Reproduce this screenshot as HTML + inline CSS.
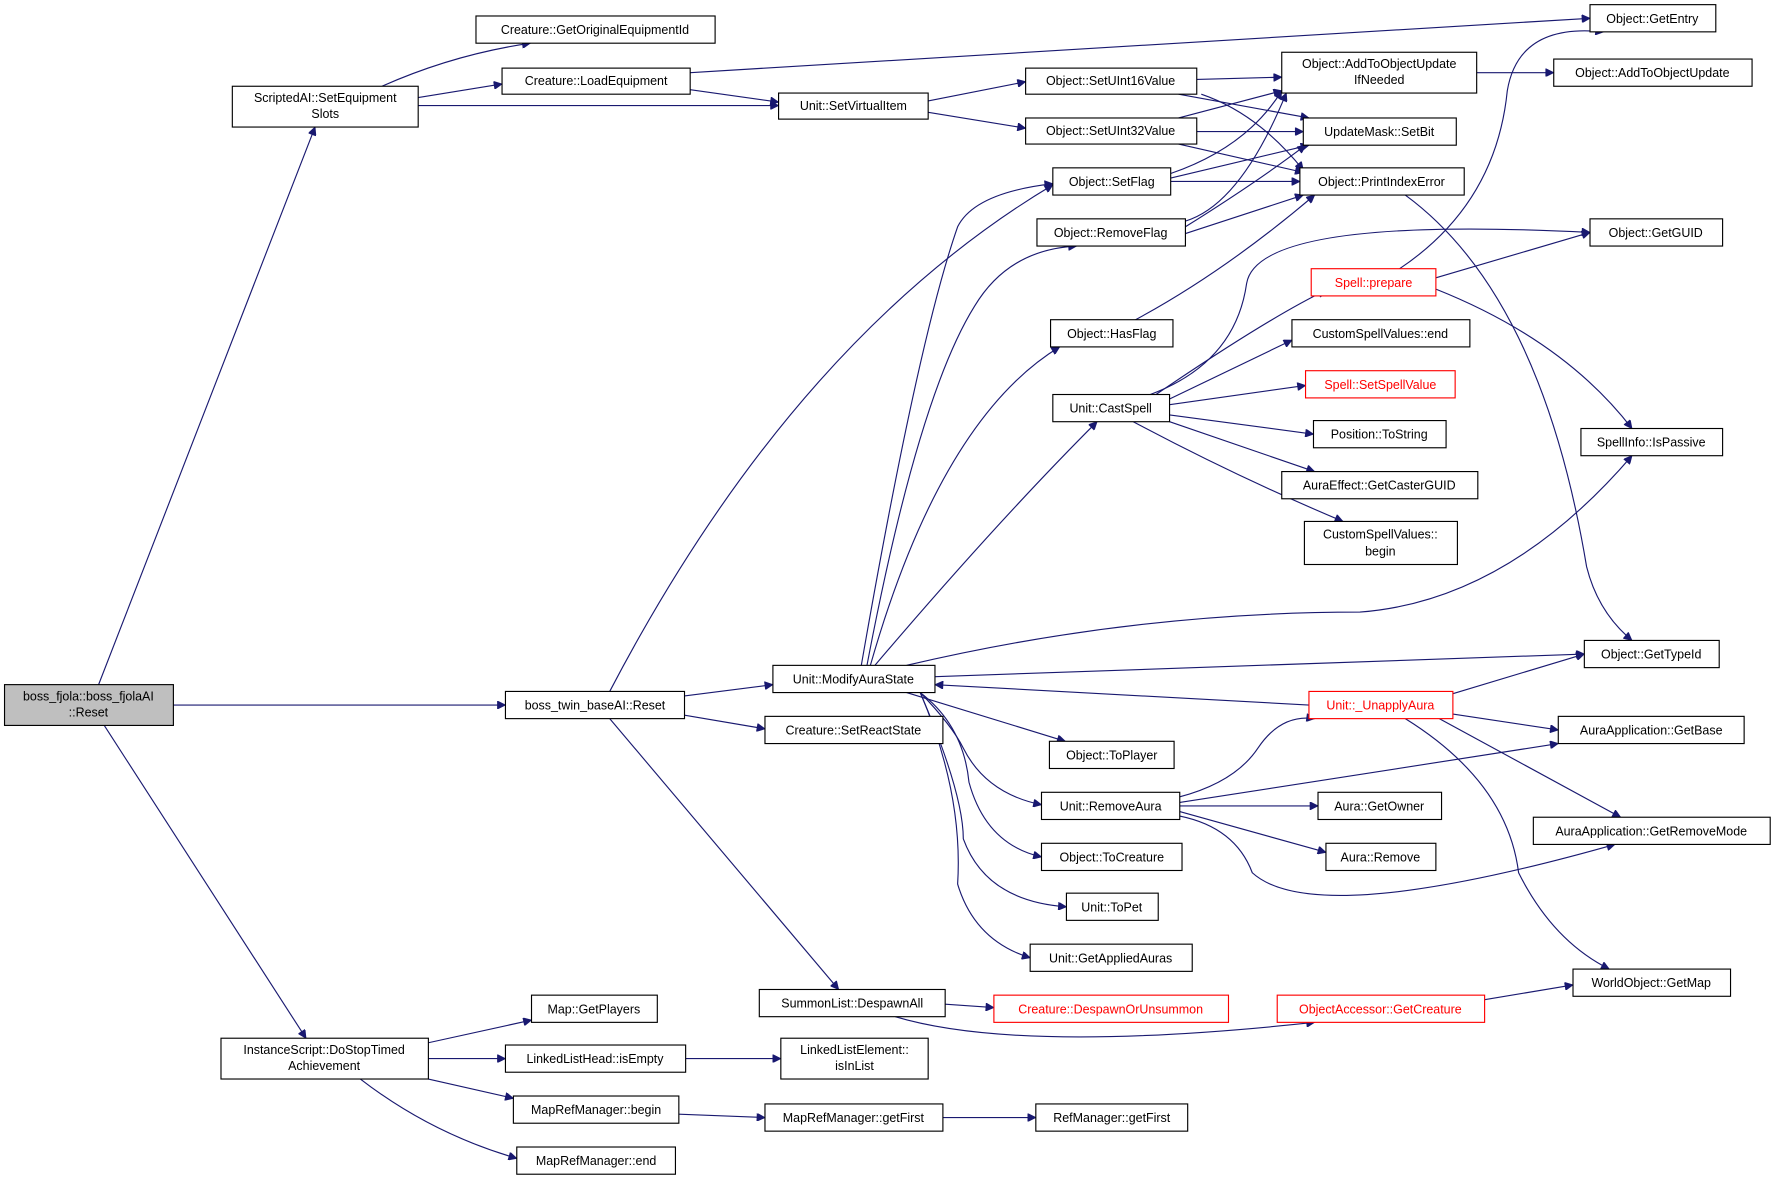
<!DOCTYPE html>
<html><head><meta charset="utf-8"><style>
html,body{margin:0;padding:0;background:#fff;}
svg{display:block;}
text{font-family:"Liberation Sans",sans-serif;font-size:11px;fill:#000;text-anchor:middle;}
rect{fill:#fff;stroke:#000;stroke-width:1;}
rect.r{stroke:#ff0000;}
path{fill:none;stroke:#191970;stroke-width:1;marker-end:url(#a);}
</style></head><body>
<svg width="1777" height="1180" viewBox="0 0 1568 1041" xmlns="http://www.w3.org/2000/svg">
<defs><marker id="a" viewBox="0 0 10 10" refX="10" refY="5" markerWidth="9" markerHeight="7" orient="auto" markerUnits="userSpaceOnUse"><path d="M0,0 L10,5 L0,10 z" style="fill:#191970;stroke:#191970;marker-end:none"/></marker></defs>

<!-- edges -->
<path d="M87,604 L278,112"/>
<path d="M153,622 L446,622"/>
<path d="M92,640 L270,916"/>
<path d="M337,76 Q400,48 468,38"/>
<path d="M369,86 L443,74"/>
<path d="M369,93 L687,93"/>
<path d="M609,64 L1403,16"/>
<path d="M609,79 L687,90"/>
<path d="M819,89 L905,72"/>
<path d="M819,99 L905,113"/>
<path d="M1056,70 L1131,68"/>
<path d="M1040,83 L1155,104"/>
<path d="M1060,83 Q1110,100 1150,150"/>
<path d="M1040,104 L1131,80"/>
<path d="M1056,116 L1150,116"/>
<path d="M1040,127 L1150,152"/>
<path d="M1303,64 L1371,64"/>
<path d="M1033,153 Q1100,130 1131,80"/>
<path d="M1033,157 L1155,128"/>
<path d="M1033,160 L1147,160"/>
<path d="M1046,195 Q1095,180 1135,82"/>
<path d="M1046,200 Q1110,160 1152,128"/>
<path d="M1046,206 L1150,172"/>
<path d="M1002,282 Q1080,240 1160,172"/>
<path d="M1240,172 Q1360,260 1400,500 Q1410,540 1440,565"/>
<path d="M538,610 Q700,300 929,163"/>
<path d="M604,614 L682,604"/>
<path d="M604,631 L675,643"/>
<path d="M538,634 L740,873"/>
<path d="M760,587 Q810,300 845,200 Q860,170 929,162"/>
<path d="M765,587 Q810,350 860,270 Q890,220 950,217"/>
<path d="M768,587 Q830,370 935,306"/>
<path d="M772,587 Q880,460 968,372"/>
<path d="M800,587 Q1000,540 1200,540 Q1330,530 1440,402"/>
<path d="M825,597 L1398,577"/>
<path d="M800,611 L940,654"/>
<path d="M812,611 Q840,640 850,660 Q870,700 919,710"/>
<path d="M812,611 Q850,640 855,690 Q870,745 919,756"/>
<path d="M812,611 Q850,700 850,740 Q870,795 941,800"/>
<path d="M812,611 Q850,700 845,780 Q860,830 909,845"/>
<path d="M1015,348 Q1090,320 1100,250 Q1110,190 1403,205"/>
<path d="M1020,348 Q1120,280 1170,256"/>
<path d="M1032,352 L1140,300"/>
<path d="M1032,357 L1152,340"/>
<path d="M1032,366 L1159,383"/>
<path d="M1032,372 L1160,416"/>
<path d="M1000,372 Q1090,420 1185,460"/>
<path d="M1235,237 Q1320,180 1330,80 Q1340,20 1415,28"/>
<path d="M1267,245 L1403,205"/>
<path d="M1267,255 Q1380,300 1440,378"/>
<path d="M1155,622 L825,604"/>
<path d="M1282,612 L1398,577"/>
<path d="M1282,630 L1375,644"/>
<path d="M1270,634 L1430,721"/>
<path d="M1240,634 Q1330,690 1340,770 Q1370,830 1420,855"/>
<path d="M1041,703 Q1090,690 1110,660 Q1130,630 1160,634"/>
<path d="M1041,708 L1375,656"/>
<path d="M1041,711 L1163,711"/>
<path d="M1041,716 L1170,752"/>
<path d="M1041,720 Q1090,730 1105,770 Q1160,820 1425,745"/>
<path d="M834,886 L877,889"/>
<path d="M790,897 Q900,930 1160,902"/>
<path d="M1310,882 L1388,869"/>
<path d="M378,920 L469,900"/>
<path d="M378,934 L446,934"/>
<path d="M378,952 L453,969"/>
<path d="M318,952 Q380,1000 456,1022"/>
<path d="M605,934 L689,934"/>
<path d="M599,983 L675,986"/>
<path d="M832,986 L914,986"/>

<!-- nodes -->
<rect x="4" y="604" width="149" height="36" style="fill:#bfbfbf"/><text x="78" y="618">boss_fjola::boss_fjolaAI</text><text x="78" y="632">::Reset</text>
<rect x="205" y="76" width="164" height="36"/><text x="287" y="90">ScriptedAI::SetEquipment</text><text x="287" y="104">Slots</text>
<rect x="420" y="14" width="211" height="24"/><text x="525" y="30">Creature::GetOriginalEquipmentId</text>
<rect x="443" y="60" width="166" height="23"/><text x="526" y="75">Creature::LoadEquipment</text>
<rect x="687" y="82" width="132" height="23"/><text x="753" y="97">Unit::SetVirtualItem</text>
<rect x="1403" y="4" width="111" height="24"/><text x="1458" y="20">Object::GetEntry</text>
<rect x="905" y="60" width="151" height="23"/><text x="980" y="75">Object::SetUInt16Value</text>
<rect x="905" y="104" width="151" height="23"/><text x="980" y="119">Object::SetUInt32Value</text>
<rect x="1131" y="46" width="172" height="36"/><text x="1217" y="60">Object::AddToObjectUpdate</text><text x="1217" y="74">IfNeeded</text>
<rect x="1371" y="52" width="175" height="24"/><text x="1458" y="68">Object::AddToObjectUpdate</text>
<rect x="1150" y="104" width="135" height="24"/><text x="1217" y="120">UpdateMask::SetBit</text>
<rect x="929" y="148" width="104" height="24"/><text x="981" y="164">Object::SetFlag</text>
<rect x="1147" y="148" width="145" height="24"/><text x="1219" y="164">Object::PrintIndexError</text>
<rect x="915" y="193" width="131" height="24"/><text x="980" y="209">Object::RemoveFlag</text>
<rect x="1403" y="193" width="117" height="24"/><text x="1461" y="209">Object::GetGUID</text>
<rect class="r" x="1157" y="237" width="110" height="24"/><text x="1212" y="253" style="fill:#ff0000">Spell::prepare</text>
<rect x="927" y="282" width="108" height="24"/><text x="981" y="298">Object::HasFlag</text>
<rect x="1140" y="282" width="157" height="24"/><text x="1218" y="298">CustomSpellValues::end</text>
<rect x="929" y="348" width="103" height="24"/><text x="980" y="364">Unit::CastSpell</text>
<rect class="r" x="1152" y="327" width="132" height="24"/><text x="1218" y="343" style="fill:#ff0000">Spell::SetSpellValue</text>
<rect x="1159" y="371" width="117" height="24"/><text x="1217" y="387">Position::ToString</text>
<rect x="1395" y="378" width="125" height="24"/><text x="1457" y="394">SpellInfo::IsPassive</text>
<rect x="1131" y="416" width="173" height="24"/><text x="1217" y="432">AuraEffect::GetCasterGUID</text>
<rect x="1151" y="460" width="135" height="38"/><text x="1218" y="475">CustomSpellValues::</text><text x="1218" y="490">begin</text>
<rect x="1398" y="565" width="119" height="24"/><text x="1457" y="581">Object::GetTypeId</text>
<rect x="682" y="587" width="143" height="24"/><text x="753" y="603">Unit::ModifyAuraState</text>
<rect x="446" y="610" width="158" height="24"/><text x="525" y="626">boss_twin_baseAI::Reset</text>
<rect class="r" x="1155" y="610" width="127" height="24"/><text x="1218" y="626" style="fill:#ff0000">Unit::_UnapplyAura</text>
<rect x="675" y="632" width="157" height="24"/><text x="753" y="648">Creature::SetReactState</text>
<rect x="1375" y="632" width="164" height="24"/><text x="1457" y="648">AuraApplication::GetBase</text>
<rect x="926" y="654" width="110" height="24"/><text x="981" y="670">Object::ToPlayer</text>
<rect x="919" y="699" width="122" height="24"/><text x="980" y="715">Unit::RemoveAura</text>
<rect x="1163" y="699" width="109" height="24"/><text x="1217" y="715">Aura::GetOwner</text>
<rect x="1353" y="721" width="209" height="24"/><text x="1457" y="737">AuraApplication::GetRemoveMode</text>
<rect x="919" y="744" width="124" height="24"/><text x="981" y="760">Object::ToCreature</text>
<rect x="1170" y="744" width="97" height="24"/><text x="1218" y="760">Aura::Remove</text>
<rect x="941" y="788" width="81" height="24"/><text x="981" y="804">Unit::ToPet</text>
<rect x="909" y="833" width="143" height="24"/><text x="980" y="849">Unit::GetAppliedAuras</text>
<rect x="1388" y="855" width="139" height="24"/><text x="1457" y="871">WorldObject::GetMap</text>
<rect x="670" y="873" width="164" height="24"/><text x="752" y="889">SummonList::DespawnAll</text>
<rect class="r" x="877" y="878" width="207" height="24"/><text x="980" y="894" style="fill:#ff0000">Creature::DespawnOrUnsummon</text>
<rect class="r" x="1127" y="878" width="183" height="24"/><text x="1218" y="894" style="fill:#ff0000">ObjectAccessor::GetCreature</text>
<rect x="469" y="878" width="111" height="24"/><text x="524" y="894">Map::GetPlayers</text>
<rect x="195" y="916" width="183" height="36"/><text x="286" y="930">InstanceScript::DoStopTimed</text><text x="286" y="944">Achievement</text>
<rect x="446" y="922" width="159" height="24"/><text x="525" y="938">LinkedListHead::isEmpty</text>
<rect x="689" y="916" width="130" height="36"/><text x="754" y="930">LinkedListElement::</text><text x="754" y="944">isInList</text>
<rect x="453" y="967" width="146" height="24"/><text x="526" y="983">MapRefManager::begin</text>
<rect x="675" y="974" width="157" height="24"/><text x="753" y="990">MapRefManager::getFirst</text>
<rect x="914" y="974" width="134" height="24"/><text x="981" y="990">RefManager::getFirst</text>
<rect x="456" y="1012" width="140" height="24"/><text x="526" y="1028">MapRefManager::end</text>
</svg>
</body></html>
